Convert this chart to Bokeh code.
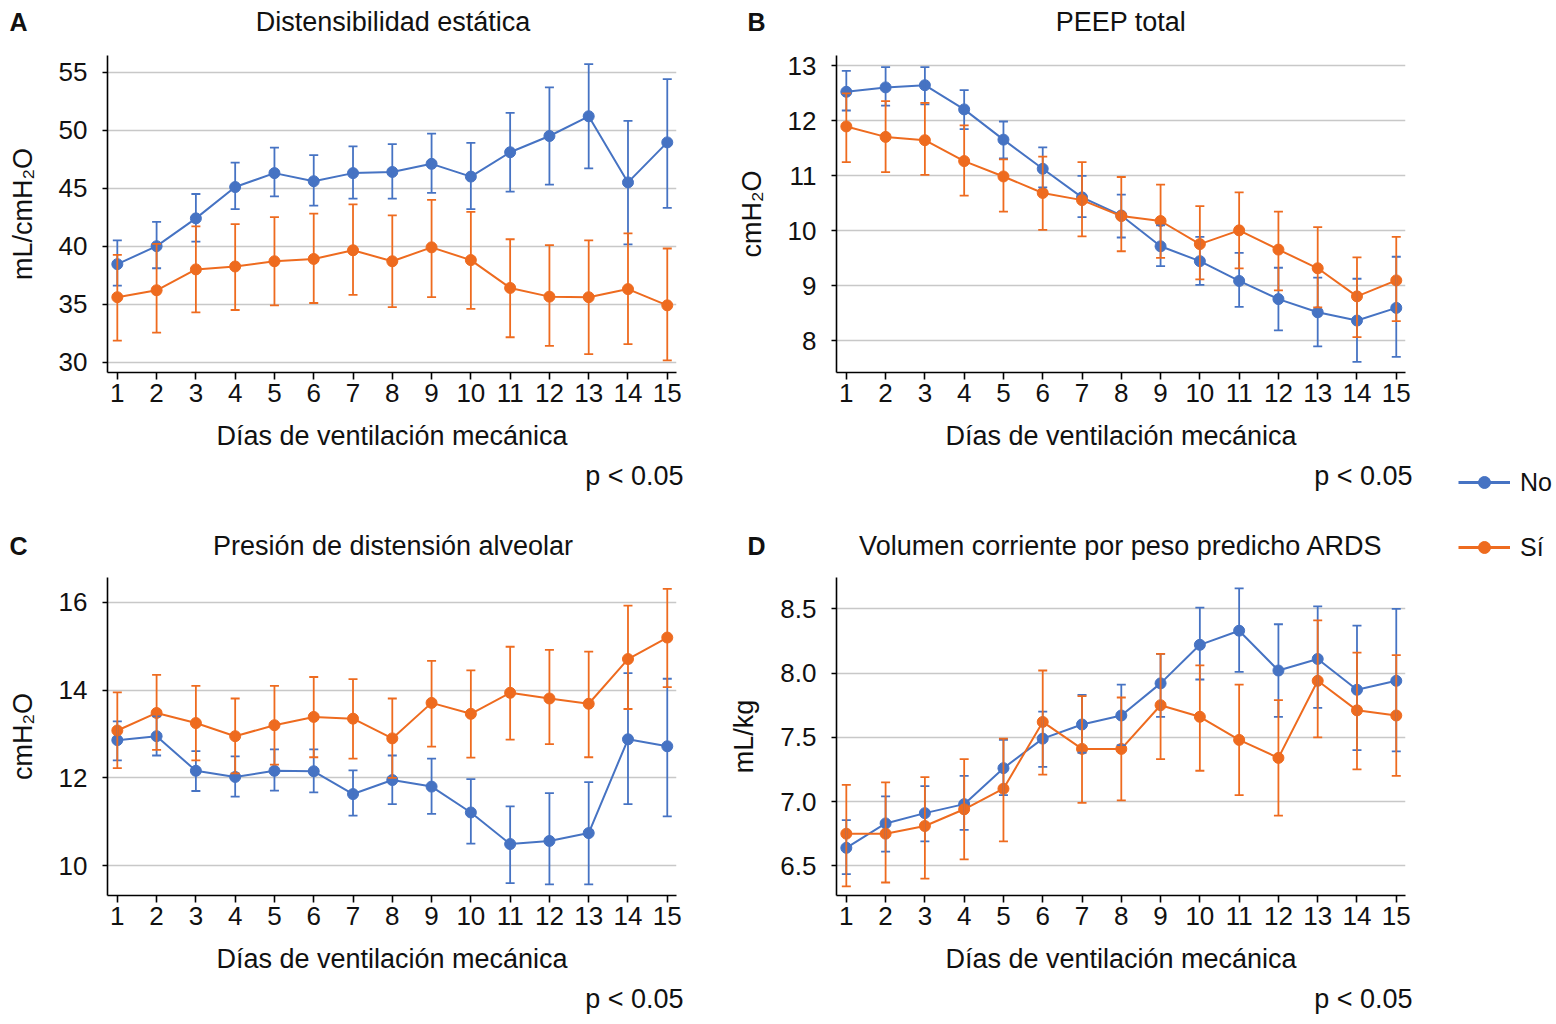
from bokeh.plotting import figure
from bokeh.models import (ColumnDataSource, Whisker, TeeHead, Range1d, Title,
                          FixedTicker, Legend, LegendItem)
from bokeh.core.properties import value
from bokeh.layouts import row, column
from bokeh.embed import file_html
from bokeh.resources import INLINE

# ---------------- data ----------------
days = list(range(1, 16))
series_names = ["No", "Sí"]

A_no_mean = [38.45, 40.0, 42.4, 45.1, 46.3, 45.6, 46.3, 46.4, 47.1, 46.0, 48.1, 49.5, 51.2, 45.5, 48.95]
A_no_upper = [40.5, 42.1, 44.5, 47.2, 48.5, 47.85, 48.6, 48.8, 49.7, 48.9, 51.5, 53.7, 55.7, 50.8, 54.4]
A_no_lower = [36.6, 38.1, 40.4, 43.2, 44.3, 43.5, 44.1, 44.1, 44.6, 43.2, 44.7, 45.3, 46.7, 40.15, 43.3]
A_si_mean = [35.6, 36.2, 38.0, 38.25, 38.7, 38.9, 39.65, 38.7, 39.9, 38.8, 36.4, 35.65, 35.6, 36.3, 34.9]
A_si_upper = [39.25, 40.2, 41.7, 41.9, 42.5, 42.8, 43.6, 42.65, 44.0, 42.95, 40.6, 40.1, 40.5, 41.1, 39.8]
A_si_lower = [31.85, 32.55, 34.3, 34.5, 34.9, 35.1, 35.8, 34.75, 35.6, 34.6, 32.15, 31.4, 30.7, 31.55, 30.15]

B_no_mean = [12.53, 12.61, 12.65, 12.21, 11.66, 11.13, 10.61, 10.28, 9.72, 9.45, 9.09, 8.76, 8.52, 8.37, 8.6]
B_no_upper = [12.91, 12.98, 12.98, 12.56, 11.99, 11.52, 11.0, 10.66, 10.1, 9.89, 9.6, 9.33, 9.15, 9.13, 9.53]
B_no_lower = [12.19, 12.28, 12.3, 11.85, 11.32, 10.79, 10.25, 9.88, 9.36, 9.02, 8.62, 8.19, 7.9, 7.62, 7.71]
B_si_mean = [11.9, 11.71, 11.65, 11.27, 10.99, 10.69, 10.56, 10.27, 10.18, 9.76, 10.01, 9.66, 9.32, 8.81, 9.1]
B_si_upper = [12.5, 12.36, 12.33, 11.92, 11.3, 11.35, 11.25, 10.98, 10.84, 10.45, 10.7, 10.35, 10.07, 9.52, 9.89]
B_si_lower = [11.25, 11.07, 11.02, 10.64, 10.35, 10.02, 9.9, 9.63, 9.51, 9.12, 9.32, 8.92, 8.61, 8.07, 8.36]

C_no_mean = [12.86, 12.95, 12.16, 12.02, 12.16, 12.15, 11.63, 11.95, 11.8, 11.21, 10.49, 10.56, 10.74, 12.88, 12.72]
C_no_upper = [13.29, 13.4, 12.61, 12.49, 12.65, 12.65, 12.17, 12.51, 12.44, 11.97, 11.35, 11.65, 11.9, 14.39, 14.26]
C_no_lower = [12.4, 12.51, 11.7, 11.57, 11.71, 11.67, 11.14, 11.4, 11.18, 10.5, 9.6, 9.57, 9.57, 11.4, 11.12]
C_si_mean = [13.08, 13.48, 13.25, 12.95, 13.2, 13.39, 13.35, 12.9, 13.71, 13.46, 13.94, 13.81, 13.69, 14.71, 15.2]
C_si_upper = [13.95, 14.35, 14.1, 13.81, 14.1, 14.3, 14.25, 13.81, 14.67, 14.45, 14.99, 14.92, 14.88, 15.93, 16.31]
C_si_lower = [12.22, 12.64, 12.4, 12.1, 12.3, 12.47, 12.44, 12.0, 12.71, 12.46, 12.87, 12.77, 12.47, 13.57, 14.07]

D_no_mean = [6.64, 6.83, 6.91, 6.98, 7.26, 7.49, 7.6, 7.67, 7.92, 8.22, 8.33, 8.02, 8.11, 7.87, 7.94]
D_no_upper = [6.855, 7.04, 7.12, 7.2, 7.48, 7.7, 7.83, 7.91, 8.15, 8.51, 8.66, 8.38, 8.52, 8.37, 8.5]
D_no_lower = [6.435, 6.61, 6.69, 6.78, 7.05, 7.27, 7.38, 7.44, 7.66, 7.95, 8.01, 7.66, 7.73, 7.4, 7.39]
D_si_mean = [6.75, 6.75, 6.81, 6.94, 7.1, 7.62, 7.41, 7.41, 7.75, 7.66, 7.48, 7.34, 7.94, 7.71, 7.67]
D_si_upper = [7.13, 7.15, 7.19, 7.33, 7.49, 8.02, 7.82, 7.81, 8.15, 8.06, 7.91, 7.79, 8.41, 8.16, 8.14]
D_si_lower = [6.34, 6.37, 6.4, 6.55, 6.69, 7.21, 6.99, 7.01, 7.33, 7.24, 7.05, 6.89, 7.5, 7.25, 7.2]

A_ticks = [30, 35, 40, 45, 50, 55]
B_ticks = [8, 9, 10, 11, 12, 13]
C_ticks = [10, 12, 14, 16]
D_ticks = [6.5, 7.0, 7.5, 8.0, 8.5]
D_tick_labels = ["6.5", "7.0", "7.5", "8.0", "8.5"]

titles = ["Distensibilidad estática", "PEEP total",
          "Presión de distensión alveolar", "Volumen corriente por peso predicho ARDS"]
letters = ["A", "B", "C", "D"]
ylabels = ["mL/cmH₂O", "cmH₂O", "cmH₂O", "mL/kg"]
xlabel = "Días de ventilación mecánica"
pnote = "p < 0.05"

# ---------------- style ----------------
BLUE = "#4673c3"
ORANGE = "#ee6b1f"
FONT = "Liberation Sans"
FS = "26px"
FSL = "27px"
TXT = "#111111"
XR = (0.75, 15.235)
FW = 569  # frame width


def make_header(letter, title, w, h, letter_x, title_cx, ty):
    p = figure(width=w, height=h, x_range=Range1d(0, w), y_range=Range1d(h, 0),
               output_backend="svg", toolbar_location=None,
               x_axis_location=None, y_axis_location=None,
               min_border_left=0, min_border_right=0, min_border_top=0, min_border_bottom=0)
    p.outline_line_color = None
    p.grid.visible = False
    p.text(x=[letter_x], y=[ty], text=[letter], text_font=value(FONT),
           text_font_size="25px", text_font_style="bold", text_color=TXT,
           text_align="left", text_baseline="middle")
    p.text(x=[title_cx], y=[ty], text=[title], text_font=value(FONT),
           text_font_size=FSL, text_color=TXT,
           text_align="center", text_baseline="middle")
    return p


def make_panel(no, si, yr, yticks, ylabel, w, h, ml, mr, mt, mb, overrides=None):
    p = figure(width=w, height=h, x_range=Range1d(*XR), y_range=Range1d(*yr),
               output_backend="svg", toolbar_location=None,
               min_border_left=ml, min_border_right=mr,
               min_border_top=mt, min_border_bottom=mb)
    p.outline_line_color = None
    p.background_fill_color = "white"
    p.border_fill_color = "white"
    p.xgrid.visible = False
    p.ygrid.grid_line_color = "#c8c8c8"
    p.ygrid.grid_line_width = 1.6
    p.ygrid.ticker = FixedTicker(ticks=yticks)

    for ax in (p.xaxis[0], p.yaxis[0]):
        ax.axis_line_color = "black"
        ax.axis_line_width = 1.6
        ax.major_tick_line_color = "black"
        ax.major_tick_line_width = 1.6
        ax.minor_tick_line_color = None
        ax.major_tick_in = 0
        ax.major_label_text_font = FONT
        ax.major_label_text_font_size = FS
        ax.major_label_text_color = TXT
        ax.axis_label_text_font = FONT
        ax.axis_label_text_font_size = FSL
        ax.axis_label_text_font_style = "normal"
        ax.axis_label_text_color = TXT

    xa = p.xaxis[0]
    xa.ticker = FixedTicker(ticks=days)
    xa.major_tick_out = 7
    xa.major_label_standoff = 4
    xa.axis_label = xlabel
    xa.axis_label_standoff = 16

    ya = p.yaxis[0]
    ya.ticker = FixedTicker(ticks=yticks)
    ya.major_tick_out = 5
    ya.major_label_standoff = 15
    ya.axis_label = ylabel
    ya.axis_label_standoff = 18
    if overrides:
        ya.major_label_overrides = overrides

    for (mean, up, lo), col in zip((no, si), (BLUE, ORANGE)):
        src = ColumnDataSource(dict(x=days, y=mean, up=up, lo=lo))
        wh = Whisker(source=src, base="x", upper="up", lower="lo",
                     line_color=col, line_width=1.8, level="glyph",
                     upper_head=TeeHead(size=9, line_color=col, line_width=1.8),
                     lower_head=TeeHead(size=9, line_color=col, line_width=1.8))
        p.add_layout(wh)
        p.line("x", "y", source=src, line_color=col, line_width=2)
        p.scatter("x", "y", source=src, size=11, fill_color=col, line_color=col)

    p.add_layout(Title(text=pnote, align="right", offset=-7, standoff=11,
                       text_font=FONT, text_font_size=FSL, text_font_style="normal",
                       text_color=TXT), "below")
    return p


W1, W2 = 726, 694
L1, L2 = 107, 110
HDR1 = 40
HDR2 = 40
hA = make_header(letters[0], titles[0], W1, HDR1, 9, L1 + FW / 2 + 1, 21)
hB = make_header(letters[1], titles[1], W2, HDR1, 747 - W1, L2 + FW / 2, 21)
pA = make_panel((A_no_mean, A_no_upper, A_no_lower), (A_si_mean, A_si_upper, A_si_lower),
                (29.11, 56.44), A_ticks, ylabels[0], W1, 480, L1, W1 - L1 - FW, 15, 148)
pB = make_panel((B_no_mean, B_no_upper, B_no_lower), (B_si_mean, B_si_upper, B_si_lower),
                (7.425, 13.19), B_ticks, ylabels[1], W2, 480, L2, W2 - L2 - FW, 15, 148)
hC = make_header(letters[2], titles[2], W1, HDR2, 9, L1 + FW / 2 + 1, 25)
hD = make_header(letters[3], titles[3], W2, HDR2, 747 - W1, L2 + FW / 2, 25)
pC = make_panel((C_no_mean, C_no_upper, C_no_lower), (C_si_mean, C_si_upper, C_si_lower),
                (9.316, 16.57), C_ticks, ylabels[2], W1, 462, L1, W1 - L1 - FW, 17, 127)
pD = make_panel((D_no_mean, D_no_upper, D_no_lower), (D_si_mean, D_si_upper, D_si_lower),
                (6.269, 8.744), D_ticks, ylabels[3], W2, 462, L2, W2 - L2 - FW, 17, 127,
                overrides={t: s for t, s in zip(D_ticks, D_tick_labels)})

# legend figure (its glyphs lie outside its view; only the legend is seen)
LH = HDR1 + 480 + HDR2 + 462
LW = 134
pL = figure(width=LW, height=LH, output_backend="svg", toolbar_location=None,
            x_range=Range1d(0, 1), y_range=Range1d(0, 1),
            x_axis_location=None, y_axis_location=None,
            min_border_left=0, min_border_right=0, min_border_top=0, min_border_bottom=0)
pL.outline_line_color = None
pL.grid.visible = False
items = []
for col, name in zip((BLUE, ORANGE), series_names):
    src = ColumnDataSource(dict(x=[-5, -4], y=[-5, -4]))
    ln = pL.line("x", "y", source=src, line_color=col, line_width=3)
    sc = pL.scatter("x", "y", source=src, size=14, fill_color=col, line_color=col)
    items.append(LegendItem(label=name, renderers=[ln, sc]))
leg = Legend(items=items, location=(1458 - W1 - W2, LH - 562), orientation="vertical",
             glyph_width=52, glyph_height=30, label_height=30, spacing=35,
             label_standoff=10, padding=0, margin=0,
             border_line_color=None, background_fill_alpha=0,
             label_text_font=FONT, label_text_font_size="25px", label_text_color=TXT)
pL.add_layout(leg)

layout = row(column(row(hA, hB), row(pA, pB), row(hC, hD), row(pC, pD)), pL)

open("out.html", "w").write(file_html(layout, INLINE))
